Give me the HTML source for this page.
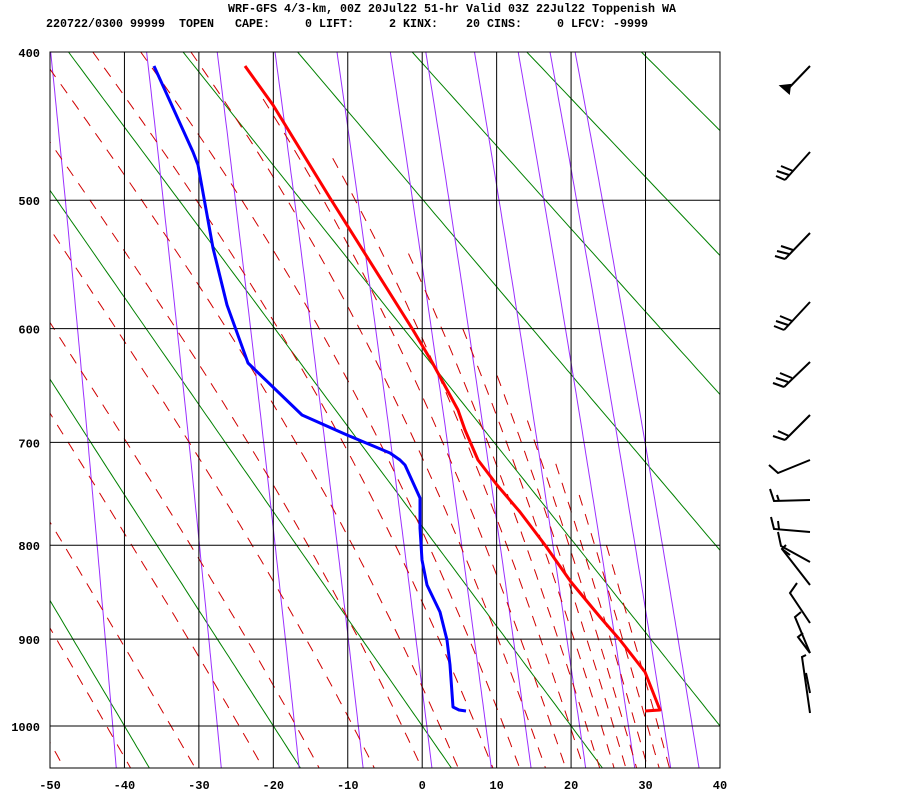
<!DOCTYPE html>
<html><head><meta charset="utf-8"><style>
html,body{margin:0;padding:0;background:#fff;}
svg{display:block;}
text{font-family:"Liberation Mono","DejaVu Sans Mono",monospace;font-weight:bold;font-size:12px;fill:#000;white-space:pre;}
</style></head><body>
<svg id="s" width="900" height="800" xmlns="http://www.w3.org/2000/svg" xml:space="preserve">
<defs><clipPath id="c"><rect x="50" y="52" width="670" height="716"/></clipPath></defs>
<rect width="900" height="800" fill="#fff"/>
<text x="228" y="12" textLength="448" lengthAdjust="spacingAndGlyphs">WRF-GFS 4/3-km, 00Z 20Jul22 51-hr Valid 03Z 22Jul22 Toppenish WA</text>
<text x="46" y="27" textLength="602" lengthAdjust="spacingAndGlyphs">220722/0300 99999  TOPEN   CAPE:     0 LIFT:     2 KINX:    20 CINS:     0 LFCV: -9999</text>
<g id="bg" clip-path="url(#c)"></g>
<g id="ax"></g>
<polyline fill="none" stroke="#00f" stroke-width="3" stroke-linejoin="round" points="154,66 193,152 198,165 213,248 227,305 248,363 302,415 347,435 390,453 400,460 405,465 420,498 420,528 422,560 427,585 440,612 447,640 450,665 453,707 459,710 466,711"/>
<polyline fill="none" stroke="#f00" stroke-width="3" stroke-linejoin="round" points="245,66 273,105 330,198 413,330 432,362 458,410 465,430 478,460 497,485 520,512 545,545 571,582 600,617 620,640 645,672 658,705 660,710 645,711"/>
<g stroke="#000" stroke-width="2" fill="none">
<polyline points="810,66 786,91"/><polygon points="781,86 789,93 790,85" fill="#000"/>
<polyline points="810,152 785,180"/><line x1="785" y1="180" x2="776" y2="176"/><line x1="789" y1="175" x2="777" y2="171"/><line x1="793" y1="171" x2="781" y2="166"/>
<polyline points="810,233 785,259"/><line x1="785" y1="259" x2="775" y2="256"/><line x1="789" y1="254" x2="777" y2="251"/><line x1="793" y1="250" x2="781" y2="246"/>
<polyline points="810,302 784,330"/><line x1="784" y1="330" x2="774" y2="326"/><line x1="788" y1="325" x2="776" y2="321"/><line x1="792" y1="321" x2="780" y2="316"/>
<polyline points="810,362 784,387"/><line x1="784" y1="387" x2="773" y2="383"/><line x1="788" y1="382" x2="776" y2="378"/><line x1="792" y1="378" x2="780" y2="373"/>
<polyline points="810,415 785,440"/><line x1="785" y1="440" x2="773" y2="436"/><line x1="789" y1="436" x2="778" y2="431"/>
<polyline points="810,460 778,473 769,465"/>
<polyline points="810,500 774,501 770,489"/><line x1="779" y1="501" x2="777" y2="495"/>
<polyline points="810,532 774,529 771,517"/><line x1="779" y1="529" x2="778" y2="521"/>
<polyline points="810,562 781,546 778,532"/>
<polyline points="810,585 782,549 786,545"/><line x1="782" y1="549" x2="790" y2="555"/>
<polyline points="810,623 790,593 797,583"/>
<polyline points="810,653 795,617 801,612"/>
<polyline points="810,653 798,637 803,633"/>
<polyline points="810,713 802,657 806,655"/>
<line x1="806" y1="673" x2="810" y2="693"/>
</g>
</svg>
<script>
var NS="http://www.w3.org/2000/svg",K=0.286;
var P0=Math.pow(400,K);
function X(T){return 50+(T+50)*7.444;}
function Y(p){return 52+405.4*(Math.pow(p,K)-P0);}
function add(g,tag,a){var e=document.createElementNS(NS,tag);for(var k in a)e.setAttribute(k,a[k]);document.getElementById(g).appendChild(e);return e;}
function es(T){return 6.112*Math.exp(17.67*T/(T+243.5));}
var ps=[];for(var p=380;p<=1060;p+=5)ps.push(p);
for(var th=-40;th<=220;th+=20){var pts=[];ps.forEach(function(p){var T=(th+273.15)*Math.pow(p/1000,0.2857)-273.15;pts.push(X(T).toFixed(1)+","+Y(p).toFixed(1));});
add("bg","polyline",{points:pts.join(" "),fill:"none",stroke:"#008000","stroke-width":1});}
[0.1,0.4,1,2,4,7,10,16,24,32,40].forEach(function(w){var pts=[];ps.forEach(function(p){var e=w*p/(622+w);var l=Math.log(e/6.112);var T=243.5*l/(17.67-l);pts.push(X(T).toFixed(1)+","+Y(p).toFixed(1));});
add("bg","polyline",{points:pts.join(" "),fill:"none",stroke:"#9b30ff","stroke-width":1});});
function the(T,p){var TK=T+273.15,e=es(T),r=622*e/(p-e);return TK*Math.pow(1000/p,0.2854*(1-0.00028*r))*Math.exp((3.376/TK-0.00254)*r*(1+0.00081*r));}
var lines=[[222,380],[231,380],[240,380],[250,380],[259,380],[269,380],[279,380],[288,380],[298,380],[307,380],[317,380],[326,430],[335,470],[344,540],[353,600],[361,640],[369,680],[378,720],[388,750],[398,800]];
lines.forEach(function(L){var tg=L[0],pt=L[1],pts=[];ps.forEach(function(p){if(p<pt)return;var lo=-120,hi=60;if(the(hi,p)<tg)return;for(var i=0;i<50;i++){var m=(lo+hi)/2;if(the(m,p)>tg)hi=m;else lo=m;}pts.push(X(lo).toFixed(1)+","+Y(p).toFixed(1));});
if(pts.length>1)add("bg","polyline",{points:pts.join(" "),fill:"none",stroke:"#d00000","stroke-width":1,"stroke-dasharray":"11,9"});});
for(var T=-40;T<=30;T+=10)add("ax","line",{x1:X(T),y1:52,x2:X(T),y2:768,stroke:"#000","stroke-width":1});
[500,600,700,800,900,1000].forEach(function(p){add("ax","line",{x1:50,y1:Y(p),x2:720,y2:Y(p),stroke:"#000","stroke-width":1});});
add("ax","rect",{x:50,y:52,width:670,height:716,fill:"none",stroke:"#000","stroke-width":1});
[400,500,600,700,800,900,1000].forEach(function(p){var t=add("ax","text",{x:40,y:Y(p)+5,"text-anchor":"end"});t.textContent=p;});
for(var T=-50;T<=40;T+=10){var t=add("ax","text",{x:X(T),y:789,"text-anchor":"middle"});t.textContent=T;}
</script>
</body></html>
